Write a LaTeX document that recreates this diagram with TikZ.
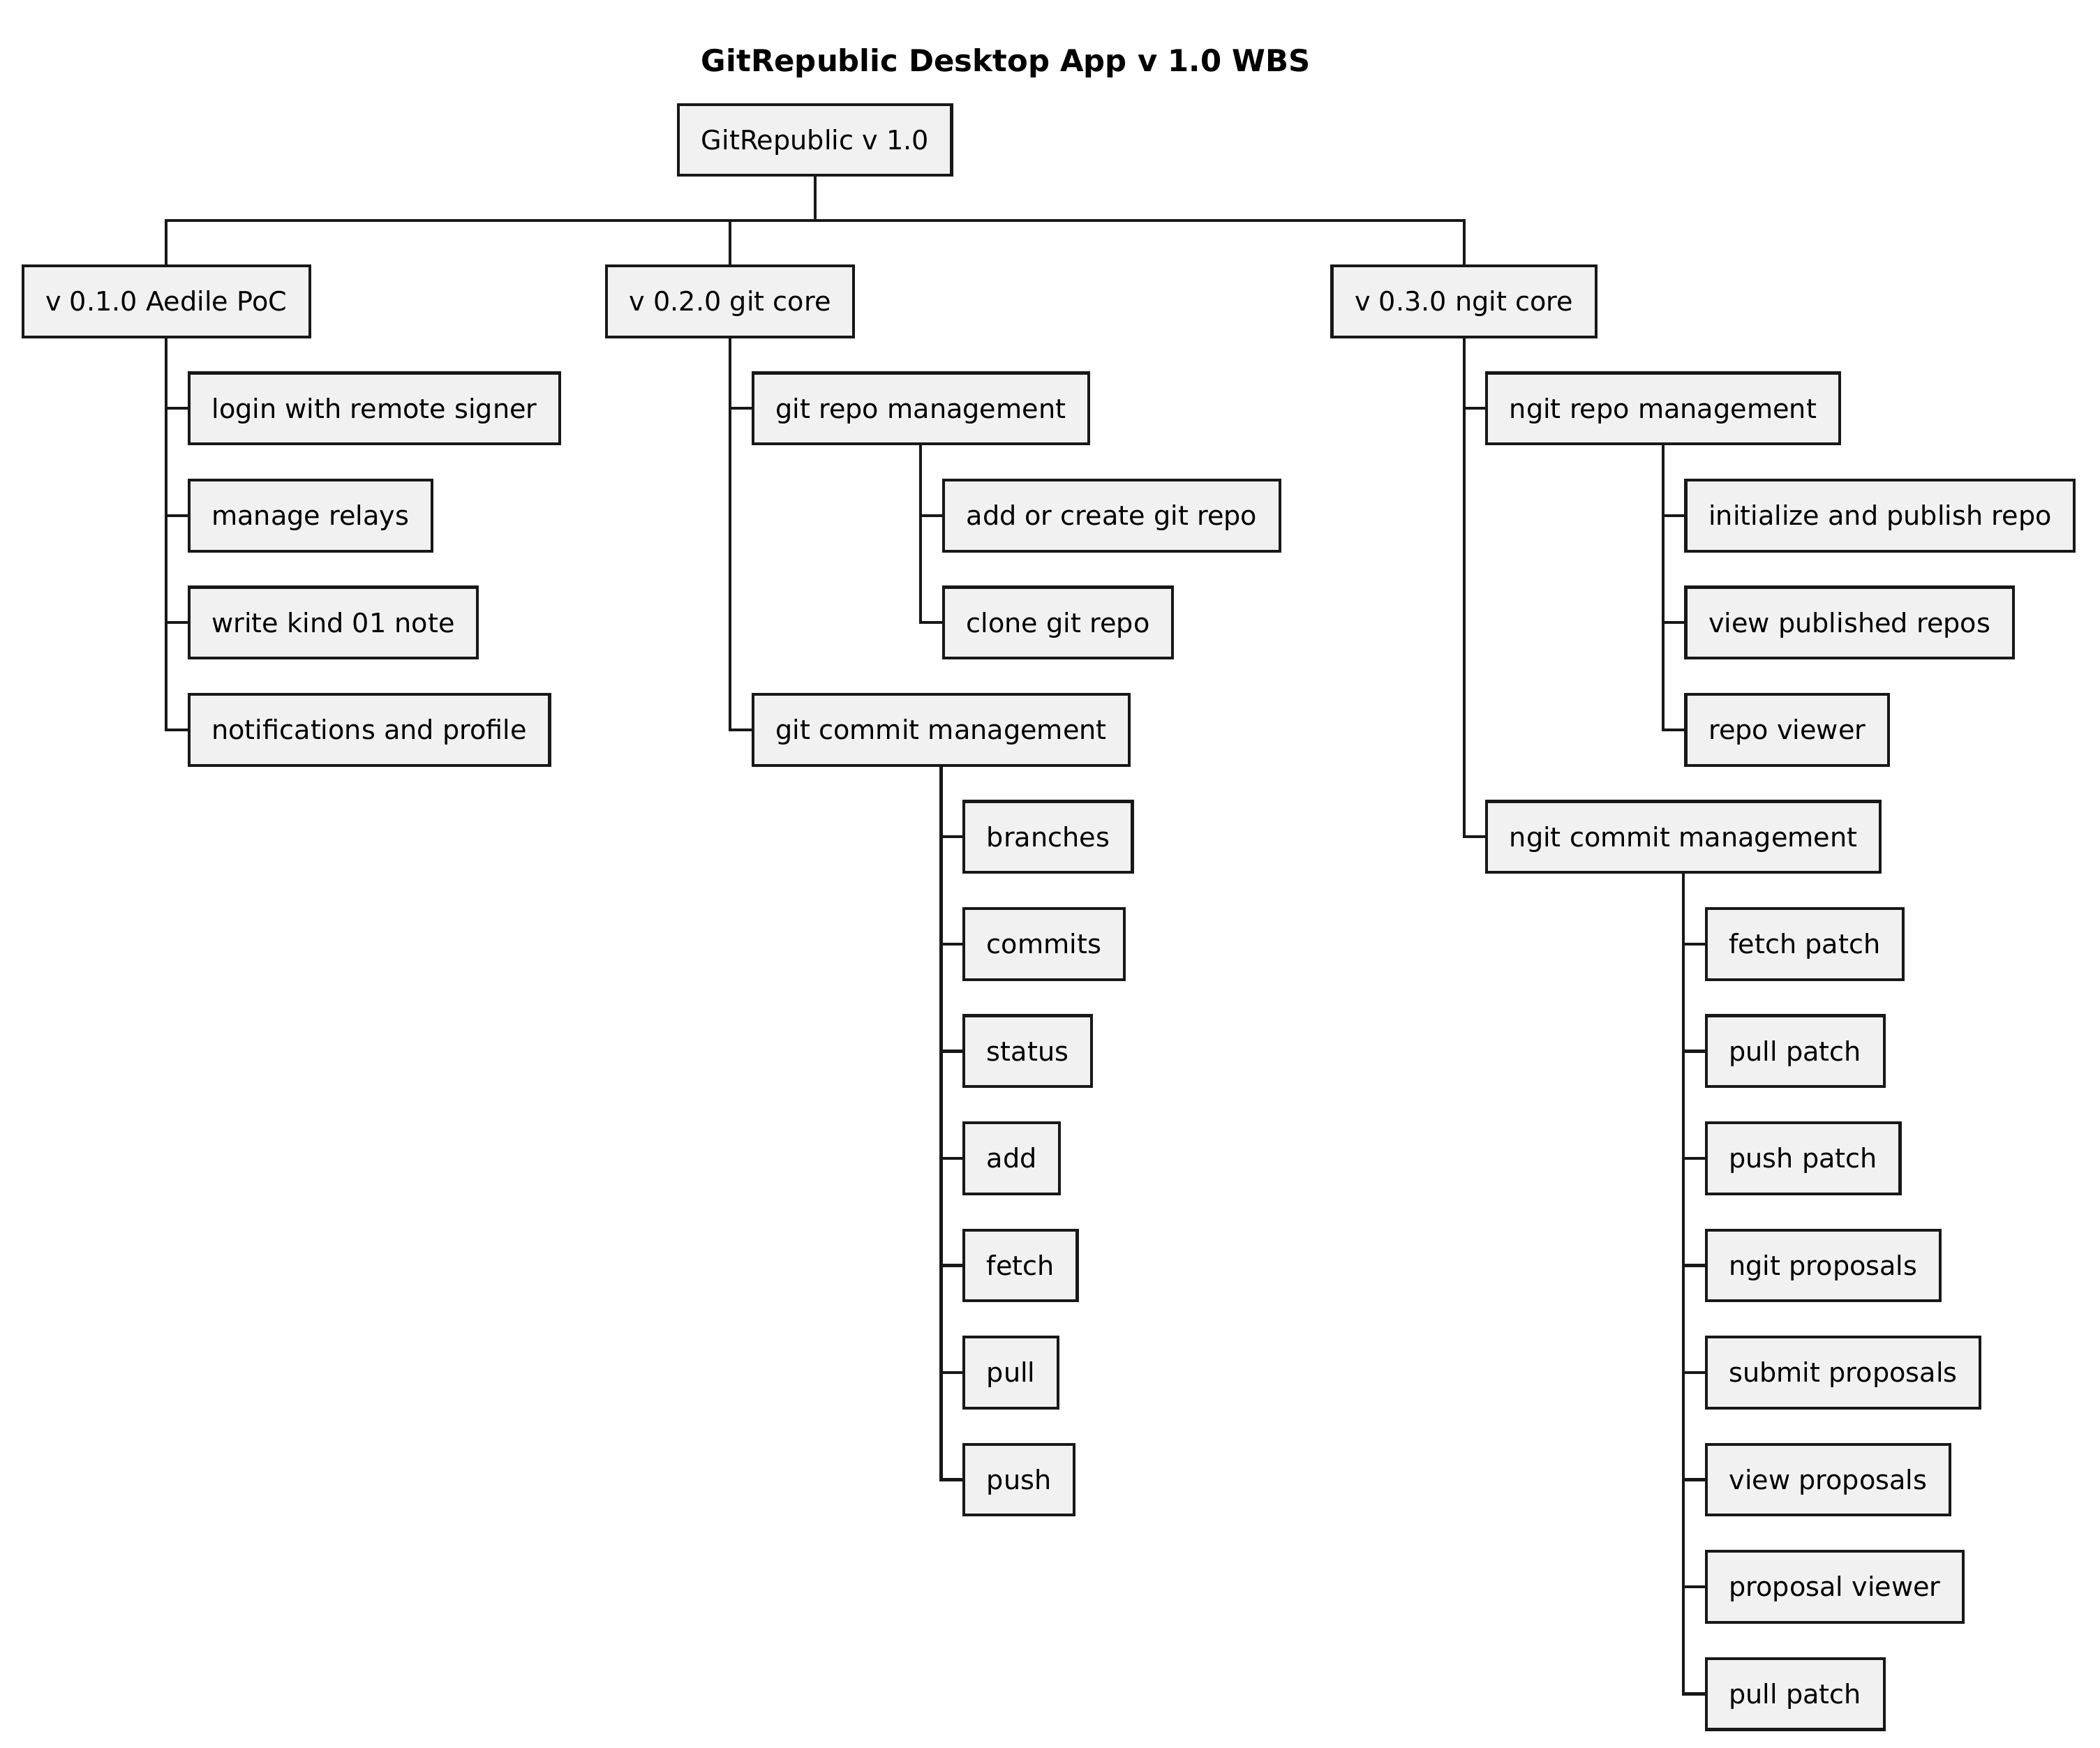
\documentclass[tikz,border=0pt]{standalone}
\usepackage{fontspec}
\setmainfont{DejaVu Sans}
\usetikzlibrary{positioning,calc}

\definecolor{boxfill}{HTML}{F1F1F1}
\definecolor{boxline}{HTML}{181818}

\tikzset{
  wbs/.style={draw=boxline, fill=boxfill, line width=2.2pt, rectangle,
    minimum height=53pt, inner xsep=17pt, inner ysep=0pt, outer sep=0pt,
    text height=14.5pt, text depth=0pt,
    font=\fontsize{19.9}{24}\selectfont},
  link/.style={draw=boxline, line width=2.2pt},
  wbstitle/.style={font=\bfseries\fontsize{22.6}{27}\selectfont},
}

\begin{document}
\begin{tikzpicture}[x=1pt, y=-1pt]

  \useasboundingbox (0,0) rectangle (1568,1305);

  % Title
  \node[wbstitle] (title) at (751,47) {GitRepublic Desktop App v 1.0 WBS};

  % v 0.1.0
  \node[wbs, anchor=north west] (v010) at (17,198.5) {v 0.1.0 Aedile PoC}; %
  \node[wbs, below right=27pt and 17pt of v010.south] (login) {login with remote signer}; %
  \node[wbs, below right=27pt and 0pt of login.south west] (relays) {manage relays}; %
  \node[wbs, below right=27pt and 0pt of relays.south west] (note) {write kind 01 note}; %
  \node[wbs, below right=27pt and 0pt of note.south west] (notif) {notifications and profile}; %

  % v 0.2.0
  \node[wbs, anchor=north west] (v020) at ([xshift=35pt]login.east |- v010.north) {v 0.2.0 git core}; %
  \node[wbs, below right=27pt and 17pt of v020.south] (git_repo) {git repo management}; %
  \node[wbs, below right=27pt and 17pt of git_repo.south] (add_repo) {add or create git repo}; %
  \node[wbs, below right=27pt and 0pt of add_repo.south west] (clone_repo) {clone git repo}; %
  \node[wbs, anchor=north west] (git_commit) at ([yshift=-27pt]git_repo.west |- clone_repo.south) {git commit management}; %
  \node[wbs, below right=27pt and 17pt of git_commit.south] (branches) {branches}; %
  \node[wbs, below right=27pt and 0pt of branches.south west] (commits) {commits}; %
  \node[wbs, below right=27pt and 0pt of commits.south west] (status) {status}; %
  \node[wbs, below right=27pt and 0pt of status.south west] (add) {add}; %
  \node[wbs, below right=27pt and 0pt of add.south west] (fetch) {fetch}; %
  \node[wbs, below right=27pt and 0pt of fetch.south west] (pull) {pull}; %
  \node[wbs, below right=27pt and 0pt of pull.south west] (push) {push}; %

  % v 0.3.0
  \node[wbs, anchor=north west] (v030) at ([xshift=39pt]add_repo.east |- v010.north) {v 0.3.0 ngit core}; %
  \node[wbs, below right=27pt and 17pt of v030.south] (ngit_repo) {ngit repo management}; %
  \node[wbs, below right=27pt and 17pt of ngit_repo.south] (init_repo) {initialize and publish repo}; %
  \node[wbs, below right=27pt and 0pt of init_repo.south west] (view_repos) {view published repos}; %
  \node[wbs, below right=27pt and 0pt of view_repos.south west] (repo_viewer) {repo viewer}; %
  \node[wbs, anchor=north west] (ngit_commit) at ([yshift=-27pt]ngit_repo.west |- repo_viewer.south) {ngit commit management}; %
  \node[wbs, below right=27pt and 17pt of ngit_commit.south] (fetch_patch) {fetch patch}; %
  \node[wbs, below right=27pt and 0pt of fetch_patch.south west] (pull_patch) {pull patch}; %
  \node[wbs, below right=27pt and 0pt of pull_patch.south west] (push_patch) {push patch}; %
  \node[wbs, below right=27pt and 0pt of push_patch.south west] (proposals) {ngit proposals}; %
  \node[wbs, below right=27pt and 0pt of proposals.south west] (submit) {submit proposals}; %
  \node[wbs, below right=27pt and 0pt of submit.south west] (view_prop) {view proposals}; %
  \node[wbs, below right=27pt and 0pt of view_prop.south west] (prop_viewer) {proposal viewer}; %
  \node[wbs, below right=27pt and 0pt of prop_viewer.south west] (pull_patch_b) {pull patch}; %

  % Root
  \node[wbs, anchor=south, yshift=67.5pt] (root) at ($(v010.north)!0.5!(v030.north)$) {GitRepublic v 1.0}; %

  % Edges
  \foreach \c in {v010,v020,v030}
    \draw[link] (root.south) -- ++(0,33.5) -| (\c.north);
  \foreach \c in {login,relays,note,notif}
    \draw[link] (v010.south) |- (\c.west);
  \foreach \c in {git_repo,git_commit}
    \draw[link] (v020.south) |- (\c.west);
  \foreach \c in {add_repo,clone_repo}
    \draw[link] (git_repo.south) |- (\c.west);
  \foreach \c in {branches,commits,status,add,fetch,pull,push}
    \draw[link] (git_commit.south) |- (\c.west);
  \foreach \c in {ngit_repo,ngit_commit}
    \draw[link] (v030.south) |- (\c.west);
  \foreach \c in {init_repo,view_repos,repo_viewer}
    \draw[link] (ngit_repo.south) |- (\c.west);
  \foreach \c in {fetch_patch,pull_patch,push_patch,proposals,submit,view_prop,prop_viewer,pull_patch_b}
    \draw[link] (ngit_commit.south) |- (\c.west);

\end{tikzpicture}
\end{document}
